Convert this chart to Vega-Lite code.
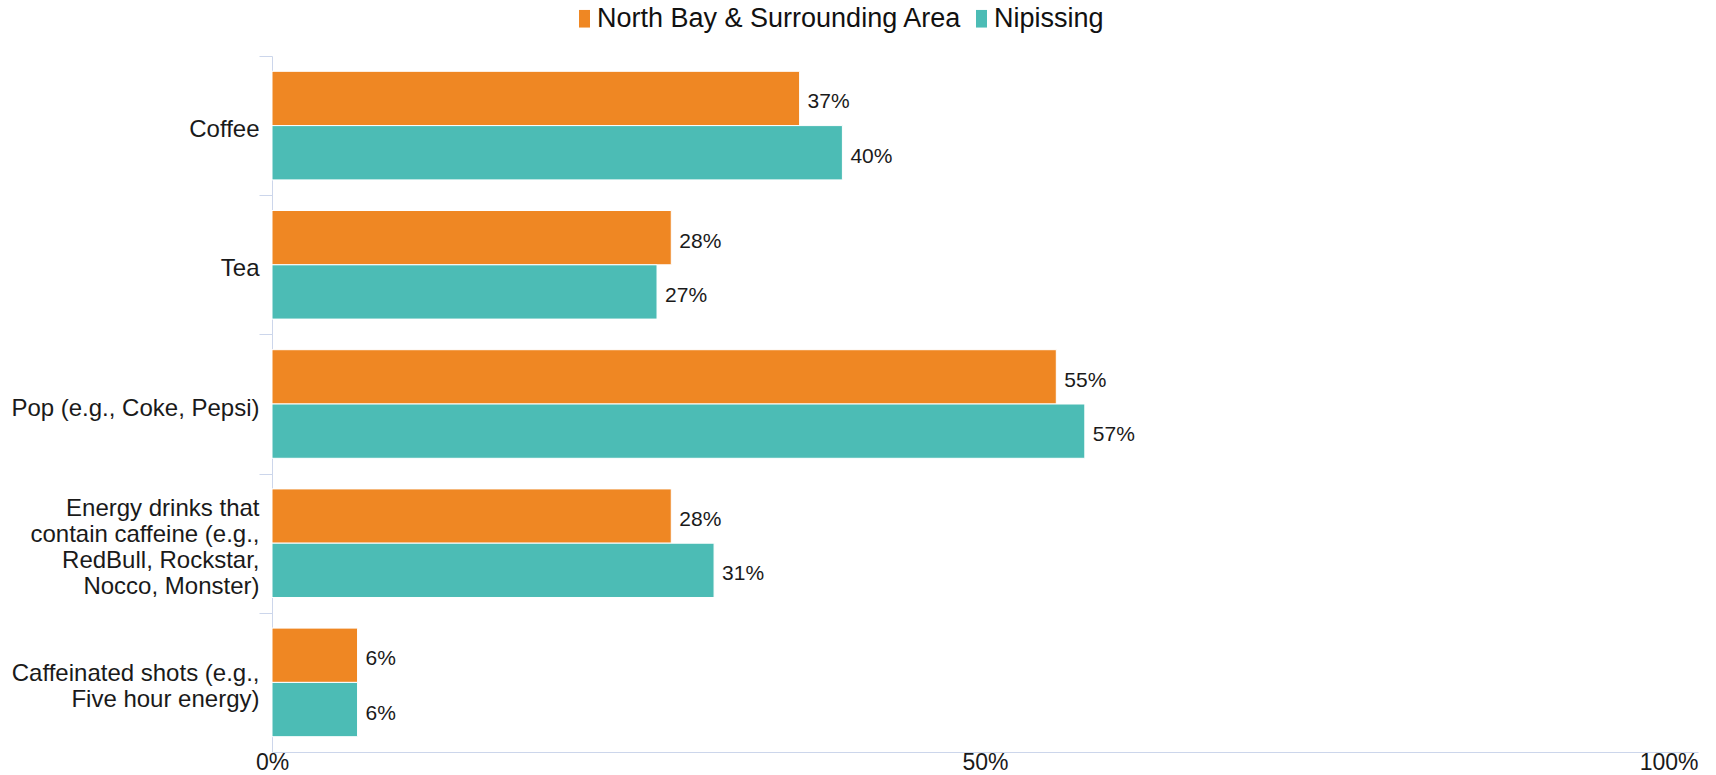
{
  "$schema": "https://vega.github.io/schema/vega-lite/v6.json",
  "width": 1426,
  "height": 696,
  "autosize": "none",
  "padding": {"left": 272, "top": 56, "right": 18, "bottom": 23},
  "background": "white",
  "config": {"font": "Liberation Sans", "view": {"stroke": null}},
  "data": {
    "values": [
      {"drink": "Coffee", "region": "North Bay & Surrounding Area", "share": 0.37},
      {"drink": "Coffee", "region": "Nipissing", "share": 0.40},
      {"drink": "Tea", "region": "North Bay & Surrounding Area", "share": 0.28},
      {"drink": "Tea", "region": "Nipissing", "share": 0.27},
      {"drink": "Pop (e.g., Coke, Pepsi)", "region": "North Bay & Surrounding Area", "share": 0.55},
      {"drink": "Pop (e.g., Coke, Pepsi)", "region": "Nipissing", "share": 0.57},
      {"drink": "Energy drinks that contain caffeine (e.g., RedBull, Rockstar, Nocco, Monster)", "region": "North Bay & Surrounding Area", "share": 0.28},
      {"drink": "Energy drinks that contain caffeine (e.g., RedBull, Rockstar, Nocco, Monster)", "region": "Nipissing", "share": 0.31},
      {"drink": "Caffeinated shots (e.g., Five hour energy)", "region": "North Bay & Surrounding Area", "share": 0.06},
      {"drink": "Caffeinated shots (e.g., Five hour energy)", "region": "Nipissing", "share": 0.06}
    ]
  },
  "encoding": {
    "y": {
      "field": "drink",
      "type": "nominal",
      "sort": ["Coffee", "Tea", "Pop (e.g., Coke, Pepsi)", "Energy drinks that contain caffeine (e.g., RedBull, Rockstar, Nocco, Monster)", "Caffeinated shots (e.g., Five hour energy)"],
      "scale": {"paddingInner": 0.22, "paddingOuter": 0.11},
      "axis": {
        "title": null,
        "domainColor": "#ccd6eb",
        "domainWidth": 1,
        "tickColor": "#ccd6eb",
        "tickWidth": 1,
        "tickSize": 13,
        "tickOffset": -69.6,
        "labelOffset": {
          "condition": [
            {"test": "datum.value == 'Energy drinks that contain caffeine (e.g., RedBull, Rockstar, Nocco, Monster)'", "value": 34.6},
            {"test": "datum.value == 'Caffeinated shots (e.g., Five hour energy)'", "value": 60.6}
          ],
          "value": 73.6
        },
        "labelFontSize": 24,
        "labelColor": "#1a1a1a",
        "labelPadding": 0,
        "labelLimit": 400,
        "labelLineHeight": 26,
        "labelExpr": "datum.value == 'Energy drinks that contain caffeine (e.g., RedBull, Rockstar, Nocco, Monster)' ? ['Energy drinks that', 'contain caffeine (e.g.,', 'RedBull, Rockstar,', 'Nocco, Monster)'] : datum.value == 'Caffeinated shots (e.g., Five hour energy)' ? ['Caffeinated shots (e.g.,', 'Five hour energy)'] : datum.label"
      }
    },
    "yOffset": {
      "field": "region",
      "type": "nominal",
      "sort": ["North Bay & Surrounding Area", "Nipissing"],
      "scale": {"paddingInner": 0, "paddingOuter": 0}
    },
    "x": {
      "field": "share",
      "type": "quantitative",
      "scale": {"domain": [0, 1]},
      "axis": {
        "title": null,
        "values": [0, 0.5, 1],
        "format": ".0%",
        "grid": false,
        "ticks": false,
        "domainColor": "#ccd6eb",
        "domainWidth": 1,
        "labelFontSize": 23,
        "labelColor": "#1a1a1a",
        "labelBaseline": "alphabetic",
        "labelPadding": 17,
        "labelFlush": false,
        "labelAlign": {"condition": {"test": "datum.value == 1", "value": "right"}, "value": "center"}
      }
    }
  },
  "layer": [
    {
      "mark": {"type": "bar", "stroke": "white", "strokeWidth": 1},
      "encoding": {
        "color": {
          "field": "region",
          "type": "nominal",
          "scale": {"domain": ["North Bay & Surrounding Area", "Nipissing"], "range": ["#ef8723", "#4cbcb5"]},
          "legend": {
            "title": null,
            "orient": "none",
            "direction": "horizontal",
            "legendX": 299,
            "legendY": -51,
            "padding": 0,
            "symbolType": "M-1,-1.6H1V1.6H-1Z",
            "symbolSize": 121,
            "symbolStrokeWidth": 0,
            "labelFontSize": 27,
            "labelColor": "#111111",
            "labelOffset": -1,
            "columnPadding": 6,
            "labelLimit": 600
          }
        }
      }
    },
    {
      "mark": {"type": "text", "align": "left", "baseline": "middle", "dx": 8, "dy": 4, "fontSize": 21, "color": "#1a1a1a"},
      "encoding": {
        "text": {"field": "share", "type": "quantitative", "format": ".0%"}
      }
    }
  ]
}
